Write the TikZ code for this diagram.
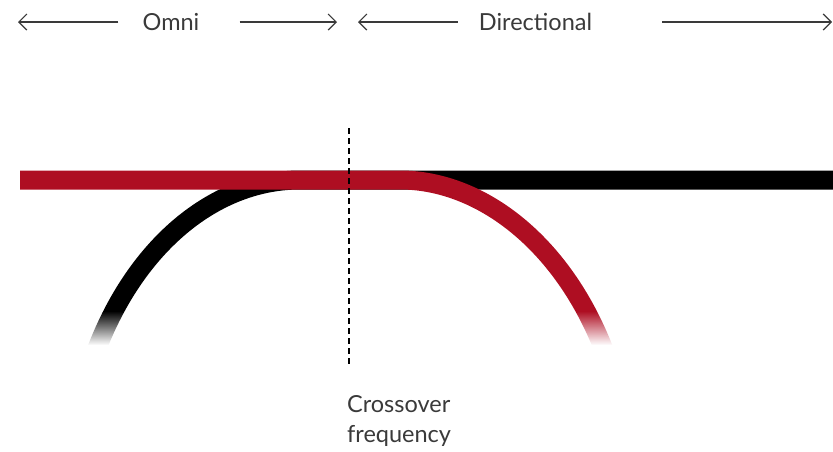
\documentclass[tikz,border=0pt]{standalone}
\usepackage{fontspec}
\setmainfont{Lato}
\usetikzlibrary{arrows.meta,fadings}
\definecolor{redc}{HTML}{AE0E22}
\definecolor{txt}{HTML}{3A3A3A}
\begin{document}
\begin{tikzpicture}[x=1pt,y=-1pt,
  lbl/.style={text=txt,font=\fontsize{23.5}{30}\selectfont,inner sep=0pt},
  arr/.style={draw=txt,line width=1.2pt,-{Straight Barb[length=8pt,width=16pt]}},
  band/.style={line width=19pt,line cap=butt},
  fadebox/.style={fill=white,path fading=north},
  blank/.style={fill=white}]
\useasboundingbox (0,0) rectangle (833,451);
% top labels and arrows
\node[lbl] (omni) at (171,22) {Omni};
\node[lbl] (dir) at (535.5,22) {Directional};
\coordinate (oL) at (18,22);
\coordinate (oR) at (337,22);
\coordinate (dL) at (358,22);
\coordinate (dR) at (832,22);
\draw[arr] ([xshift=-24pt]omni.west) -- (oL);
\draw[arr] ([xshift=40pt]omni.east) -- (oR);
\draw[arr] ([xshift=-21pt]dir.west) -- (dL);
\draw[arr] ([xshift=70pt]dir.east) -- (dR);
% black response
\draw[band,black] (96.4,350) arc[start angle=207.74,end angle=270,x radius=230,y radius=318] -- (833,180);
% red response
\draw[band,redc] (20,180) -- (400,180) .. controls (480,180) and (562,242) .. (604,350);
% fades
\fill[fadebox] (65,311) rectangle (145,345);
\fill[blank] (65,344.5) rectangle (145,362);
\fill[fadebox] (555,311) rectangle (640,345);
\fill[blank] (555,344.5) rectangle (640,362);
% crossover
\coordinate (xt) at (349,128);
\coordinate (xb) at (349,366);
\draw[black,line width=1.3pt,dash pattern=on 6pt off 4pt] (xt) -- (xb);
\node[lbl,align=left,anchor=north west] (cross) at (347,395) {Crossover\\frequency};
\end{tikzpicture}
\end{document}
